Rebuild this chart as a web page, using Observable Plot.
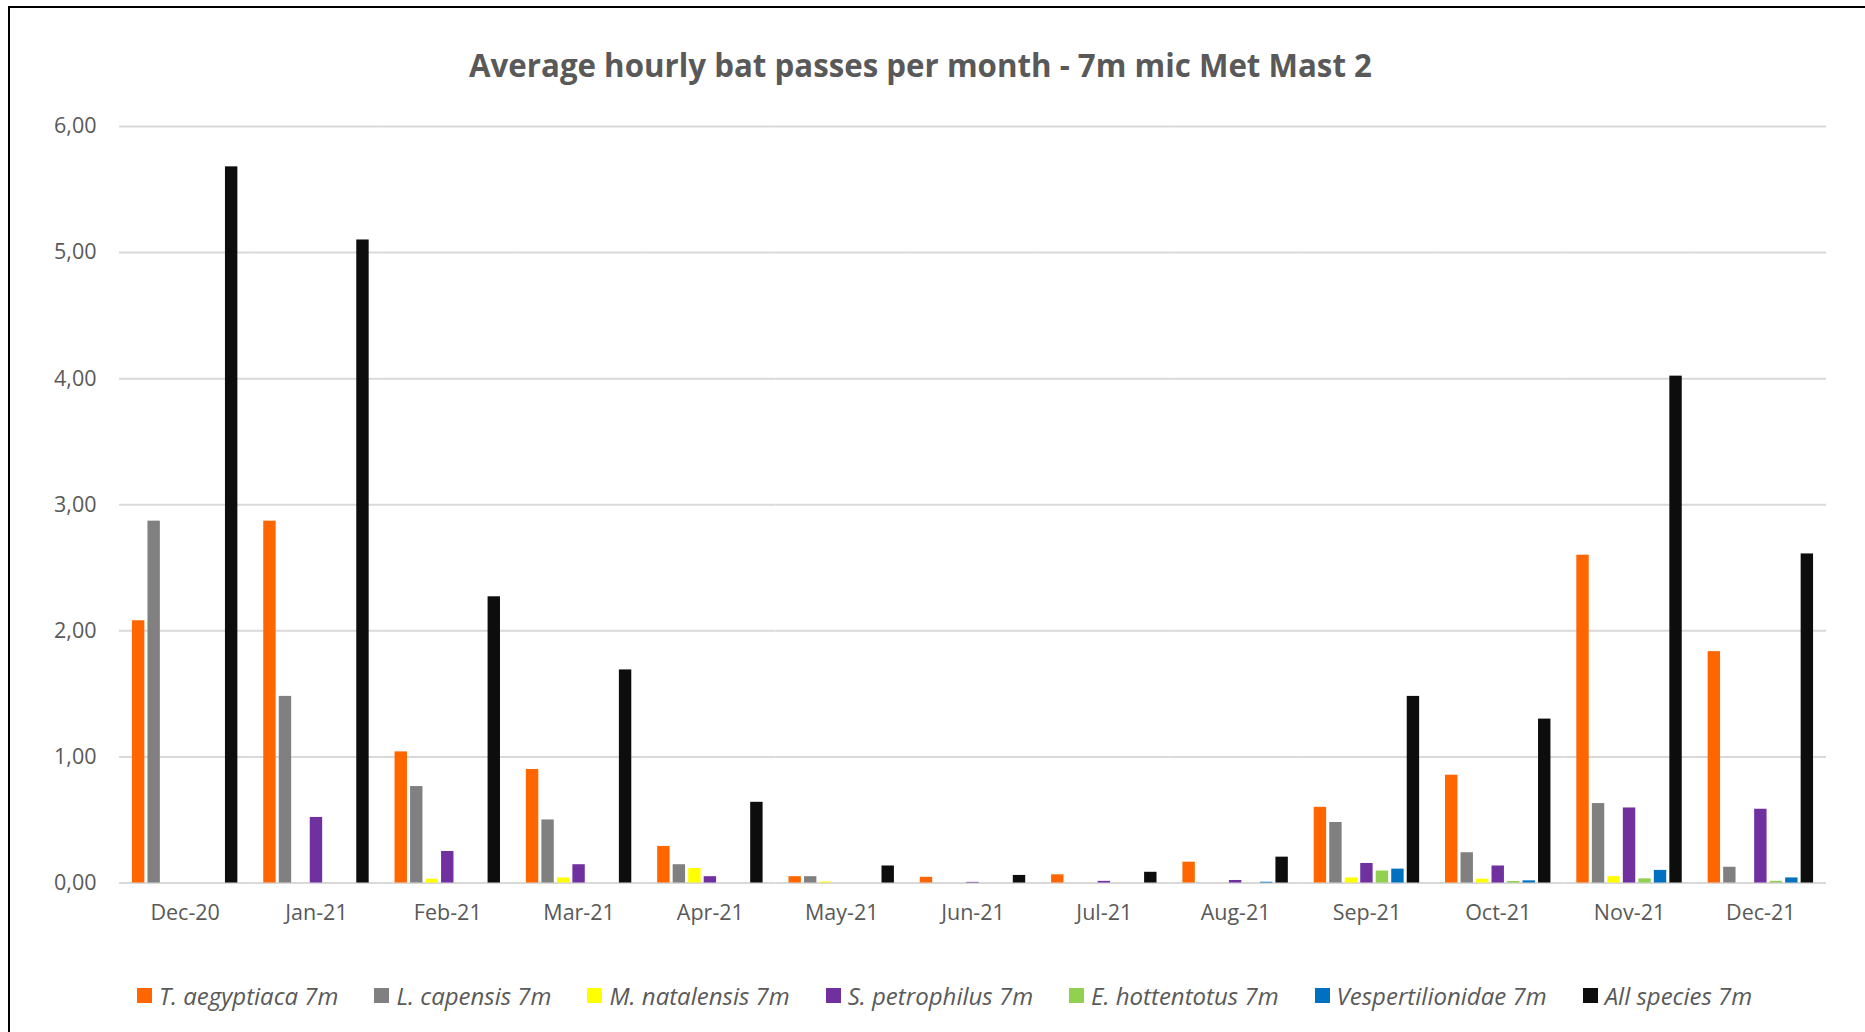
<!DOCTYPE html>
<html>
<head>
<meta charset="utf-8">
<script src="https://cdn.jsdelivr.net/npm/d3@7"></script>
<script src="https://cdn.jsdelivr.net/npm/@observablehq/plot@0.6"></script>
<style>
  html, body { margin: 0; padding: 0; background: #fff; }
  #wrap { position: relative; width: 1865px; height: 1032px; overflow: hidden; font-family: "Open Sans", sans-serif; }
  #frameTop { position: absolute; left: 8px; top: 6px; right: 0; height: 2px; background: #000; }
  #frameLeft { position: absolute; left: 8px; top: 6px; width: 2px; bottom: 0; background: #000; }
  #title { position: absolute; left: -12px; width: 1865px; top: 43px; text-align: center; font-weight: 700; font-size: 31.25px; color: #595959; line-height: 44px; }
  #chart { position: absolute; left: 0; top: 96px; }
  #legend { position: absolute; left: 137px; top: 979px; display: flex; gap: 36px; align-items: center; font-style: italic; font-size: 24px; color: #595959; white-space: nowrap; }
  .item { display: flex; align-items: center; gap: 7px; }
  .sw { width: 15px; height: 15px; display: inline-block; }
</style>
</head>
<body>
<div id="wrap">
  <div id="frameTop"></div>
  <div id="frameLeft"></div>
  <div id="title">Average hourly bat passes per month - 7m mic Met Mast 2</div>
  <div id="chart"></div>
  <div id="legend"></div>
</div>
<script>
const months = ["Dec-20","Jan-21","Feb-21","Mar-21","Apr-21","May-21","Jun-21","Jul-21","Aug-21","Sep-21","Oct-21","Nov-21","Dec-21"];
const seriesNames = ["T. aegyptiaca 7m","L. capensis 7m","M. natalensis 7m","S. petrophilus 7m","E. hottentotus 7m","Vespertilionidae 7m","All species 7m"];
const seriesColors = ["#FF6600","#808080","#FFFF00","#7030A0","#92D050","#0070C0","#0D0D0D"];

const tAegyptiaca     = [2.08, 2.87, 1.04, 0.90, 0.29, 0.05, 0.045, 0.065, 0.165, 0.60, 0.855, 2.60, 1.835];
const lCapensis       = [2.87, 1.48, 0.765, 0.50, 0.145, 0.05, 0, 0, 0, 0.48, 0.24, 0.63, 0.125];
const mNatalensis     = [0, 0, 0.03, 0.04, 0.115, 0.008, 0, 0, 0, 0.04, 0.03, 0.05, 0];
const sPetrophilus    = [0, 0.52, 0.25, 0.145, 0.05, 0, 0.005, 0.013, 0.02, 0.155, 0.135, 0.595, 0.585];
const eHottentotus    = [0, 0, 0, 0, 0, 0, 0, 0, 0, 0.095, 0.012, 0.033, 0.013];
const vespertilionidae= [0, 0, 0, 0, 0, 0, 0, 0, 0.006, 0.11, 0.017, 0.10, 0.04];
const allSpecies      = [5.68, 5.10, 2.27, 1.69, 0.64, 0.135, 0.06, 0.085, 0.205, 1.48, 1.30, 4.02, 2.61];
const yTicks = [0, 1, 2, 3, 4, 5, 6];

const seriesValues = [tAegyptiaca, lCapensis, mNatalensis, sPetrophilus, eHottentotus, vespertilionidae, allSpecies];
const rows = [];
months.forEach((m, i) => {
  seriesNames.forEach((s, j) => rows.push({month: m, series: s, value: seriesValues[j][i]}));
});

const fmt = d => d.toFixed(2).replace(".", ",");

const chart = Plot.plot({
  width: 1865,
  height: 840,
  marginLeft: 119,
  marginRight: 39,
  marginTop: 30,
  marginBottom: 53.5,
  style: {fontFamily: "'Open Sans', sans-serif", fontSize: "21.5px", color: "#595959", background: "transparent"},
  facet: {data: rows, x: "month"},
  fx: {domain: months, padding: 0, round: false, label: null, tickSize: 0, tickPadding: 22, axis: "bottom"},
  x: {domain: seriesNames, axis: null, round: false, paddingInner: 0.2, paddingOuter: 0.835},
  y: {domain: [0, 6], ticks: yTicks, tickFormat: fmt, tickSize: 0, tickPadding: 23, label: null, grid: false},
  color: {domain: seriesNames, range: seriesColors},
  marks: [
    Plot.ruleY(yTicks, {stroke: "#d9d9d9", strokeWidth: 2}),
    Plot.barY(rows, {x: "series", y: "value", fill: "series"})
  ]
});
document.getElementById("chart").appendChild(chart);

const legend = document.getElementById("legend");
seriesNames.forEach((s, i) => {
  const it = document.createElement("div");
  it.className = "item";
  const sw = document.createElement("span");
  sw.className = "sw";
  sw.style.background = seriesColors[i];
  const tx = document.createElement("span");
  tx.textContent = s;
  it.appendChild(sw); it.appendChild(tx);
  legend.appendChild(it);
});
</script>
</body>
</html>
